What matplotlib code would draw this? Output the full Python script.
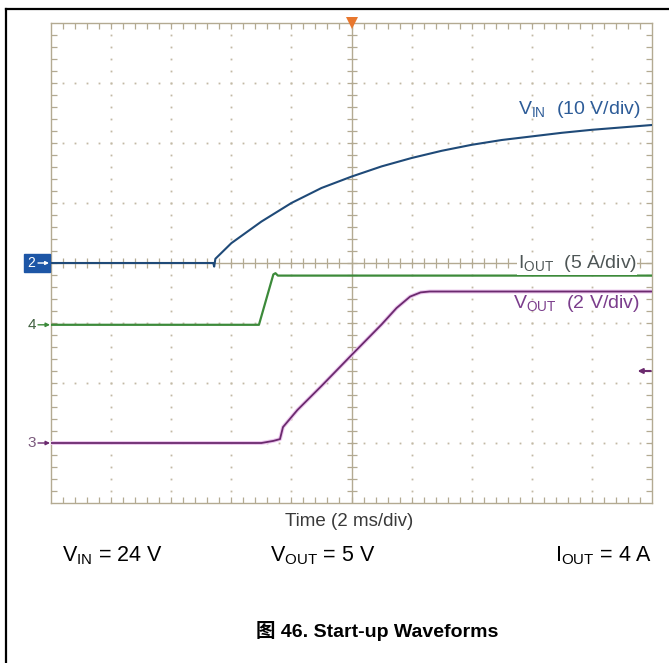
import numpy as np
import matplotlib
matplotlib.use('Agg')
import matplotlib.pyplot as plt
from matplotlib import transforms
from matplotlib.lines import Line2D
from matplotlib.patches import Rectangle
from matplotlib.collections import LineCollection

plt.rcParams['font.family'] = ['Liberation Sans', 'Noto Sans CJK SC', 'DejaVu Sans']
plt.rcParams['mathtext.fontset'] = 'custom'
plt.rcParams['mathtext.rm'] = 'Liberation Sans'
plt.rcParams['mathtext.it'] = 'Liberation Sans:italic'
plt.rcParams['mathtext.bf'] = 'Liberation Sans:bold'

# --- data (time in ms, 2 ms/div) ---
vin_t = [0, 5.40, 5.43, 5.47, 6.0, 7.0, 8.0, 9.0, 10.0, 11.0, 12.0, 13.0, 14.0, 15.0, 16.0, 17.0, 18.0, 19.0, 20.0]
vin_v = [0, 0, -0.6, 0.7, 3.3, 6.9, 10.0, 12.5, 14.4, 16.1, 17.5, 18.7, 19.7, 20.5, 21.1, 21.7, 22.2, 22.6, 23.0]

iout_t = [0, 6.92, 7.40, 7.47, 7.55, 20.0]
iout_a = [0, 0, 4.2, 4.3, 4.1, 4.1]

vout_t = [0, 7.00, 7.40, 7.62, 7.72, 8.2, 9.0, 10.0, 11.0, 11.5, 11.95, 12.3, 12.6, 20.0]
vout_v = [0, 0, 0.07, 0.13, 0.53, 1.1, 1.9, 2.93, 3.95, 4.5, 4.88, 5.02, 5.05, 5.05]

# channel settings: volts (or amps) per div and ground position in divs
VIN_SCALE, VIN_POS = 10, 0.0
IOUT_SCALE, IOUT_POS = 5, -1.03
VOUT_SCALE, VOUT_POS = 2, -3.0
TRIG_LEVEL = 2.4  # V on ch3

W, H = 669, 663
fig = plt.figure(figsize=(W / 100, H / 100), dpi=100, facecolor='white')

# outer frame (top and left only)
fig.add_artist(Line2D([6 / W, 1], [1 - 9 / H, 1 - 9 / H], transform=fig.transFigure, color='black', lw=1.6))
fig.add_artist(Line2D([6 / W, 6 / W], [0, 1 - 9 / H], transform=fig.transFigure, color='black', lw=1.6))

gx0, gx1, gy0, gy1 = 51, 652, 23, 503
GW, GH = gx1 - gx0, gy1 - gy0
ax = fig.add_axes([gx0 / W, 1 - gy1 / H, GW / W, GH / H])
ax.set_xlim(0, 20)
ax.set_xticks([])
ax.set_yticks([])
ax.set_facecolor('white')
grid_c = '#b3aa92'
for s in ax.spines.values():
    s.set_color(grid_c)
    s.set_linewidth(1.0)


def ch_axis(scale, pos):
    a = ax.twinx()
    a.set_ylim((-4 - pos) * scale, (4 - pos) * scale)
    a.axis('off')
    return a


ax_vin = ch_axis(VIN_SCALE, VIN_POS)
ax_iout = ch_axis(IOUT_SCALE, IOUT_POS)
ax_vout = ch_axis(VOUT_SCALE, VOUT_POS)
ax.set_ylim(-4, 4)

# graticule: dotted major lines
dot_c = '#c2b9a4'
for i in range(1, 10):
    if i == 5:
        continue
    ys = np.arange(0, 1.0001, 1 / 40)
    ax.plot(np.full_like(ys, i / 10), ys, ls='none', marker='s', ms=1.3, mew=0, color=dot_c, transform=ax.transAxes)
for j in range(1, 8):
    if j == 4:
        continue
    xs = np.arange(0, 1.0001, 1 / 50)
    ax.plot(xs, np.full_like(xs, j / 8), ls='none', marker='s', ms=1.3, mew=0, color=dot_c, transform=ax.transAxes)

# centre lines and tick marks
ax.plot([0.5, 0.5], [0, 1], color=grid_c, lw=1.0, transform=ax.transAxes)
ax.plot([0, 1], [0.5, 0.5], color=grid_c, lw=1.0, transform=ax.transAxes)
tx = 5 / GW
ty = 5 / GH
segs = []
for k in range(1, 50):
    x = k / 50
    segs.append([(x, 0.5 - ty), (x, 0.5 + ty)])
    segs.append([(x, 0), (x, ty * 1.2)])
    segs.append([(x, 1), (x, 1 - ty * 1.2)])
for k in range(1, 40):
    y = k / 40
    segs.append([(0.5 - tx, y), (0.5 + tx, y)])
    segs.append([(0, y), (tx * 1.2, y)])
    segs.append([(1, y), (1 - tx * 1.2, y)])
ax.add_collection(LineCollection(segs, colors=grid_c, linewidths=0.9, transform=ax.transAxes))

# traces
vin_c = '#1f4a78'
iout_c = '#3c8a3a'
vout_c = '#6b2a6e'
ax_vin.plot(vin_t, vin_v, color=vin_c, lw=1.5, zorder=5)
ax_iout.plot(iout_t, iout_a, color=iout_c, lw=1.6, zorder=5)
ax_vout.plot(vout_t, vout_v, color='#ecc6ee', lw=2.8, zorder=4)
ax_vout.plot(vout_t, vout_v, color=vout_c, lw=1.3, zorder=5)

# trigger marker at top centre
ax.plot([0.5], [1.0], marker='v', ms=9, color='#e8772e', mew=0, transform=ax.transAxes, clip_on=False, zorder=6)

# ground markers on the left (positions in axes-x / channel-data-y)
bt = transforms.blended_transform_factory(ax.transAxes, ax_vin.transData)
bt4 = transforms.blended_transform_factory(ax.transAxes, ax_iout.transData)
bt3 = transforms.blended_transform_factory(ax.transAxes, ax_vout.transData)


def arrow(a, tr, x0, x1, y, color, lw=1.0, ms=6, z=6):
    a.annotate('', xy=(x1, y), xytext=(x0, y), xycoords=tr, textcoords=tr, zorder=z,
               arrowprops=dict(arrowstyle='-|>', color=color, lw=lw, mutation_scale=ms,
                               shrinkA=0, shrinkB=0))


ax_vin.add_patch(Rectangle((-27 / GW, -1.45), 26 / GW, 2.9, transform=bt, color='#1d56a6',
                           clip_on=False, zorder=6))
ax_vin.text(-20 / GW, 0, '2', transform=bt, color='white', fontsize=10, ha='center', va='center',
            zorder=7, clip_on=False)
arrow(ax_vin, bt, -13 / GW, -2 / GW, 0, 'white', ms=5, z=7)

ax_iout.text(-19 / GW, 0, '4', transform=bt4, color='#3f5f3f', fontsize=11, ha='center', va='center', clip_on=False)
arrow(ax_iout, bt4, -13 / GW, -1 / GW, 0, iout_c, ms=6)

ax_vout.text(-19 / GW, 0, '3', transform=bt3, color='#7a5a7c', fontsize=11, ha='center', va='center', clip_on=False)
arrow(ax_vout, bt3, -13 / GW, -1 / GW, 0, vout_c, ms=6)

# trigger level arrow on the right
arrow(ax_vout, bt3, 0.998, 0.976, TRIG_LEVEL, vout_c, lw=1.5, ms=7)


def ftxt(px, py, s, **kw):
    fig.text(px / W, 1 - py / H, s, **kw)


# channel labels
ftxt(640, 109, r'$\mathrm{V_{IN}}$  (10 V/div)', color='#2d5c98', fontsize=14, ha='right', va='center')
ftxt(637, 264, r'$\mathrm{I_{OUT}}$  (5 A/div)', color='#4e5656', fontsize=14, ha='right', va='center',
     bbox=dict(facecolor='white', edgecolor='none', pad=0.3))
ftxt(640, 304, r'$\mathrm{V_{OUT}}$  (2 V/div)', color='#7b3d8c', fontsize=14, ha='right', va='center')

# annotations below the screen
ftxt(349, 522, 'Time (2 ms/div)', color='#3a3a3a', fontsize=13.5, ha='center', va='center')
ftxt(62, 556, r'$\mathrm{V_{IN}}$ = 24 V', color='black', fontsize=15.5, ha='left', va='center')
ftxt(270, 556, r'$\mathrm{V_{OUT}}$ = 5 V', color='black', fontsize=15.5, ha='left', va='center')
ftxt(555, 556, r'$\mathrm{I_{OUT}}$ = 4 A', color='black', fontsize=15.5, ha='left', va='center')
ftxt(377, 631, '图 46. Start-up Waveforms', color='black', fontsize=14, fontweight='bold', ha='center', va='center')

fig.savefig('out.png', dpi=100, facecolor='white')
